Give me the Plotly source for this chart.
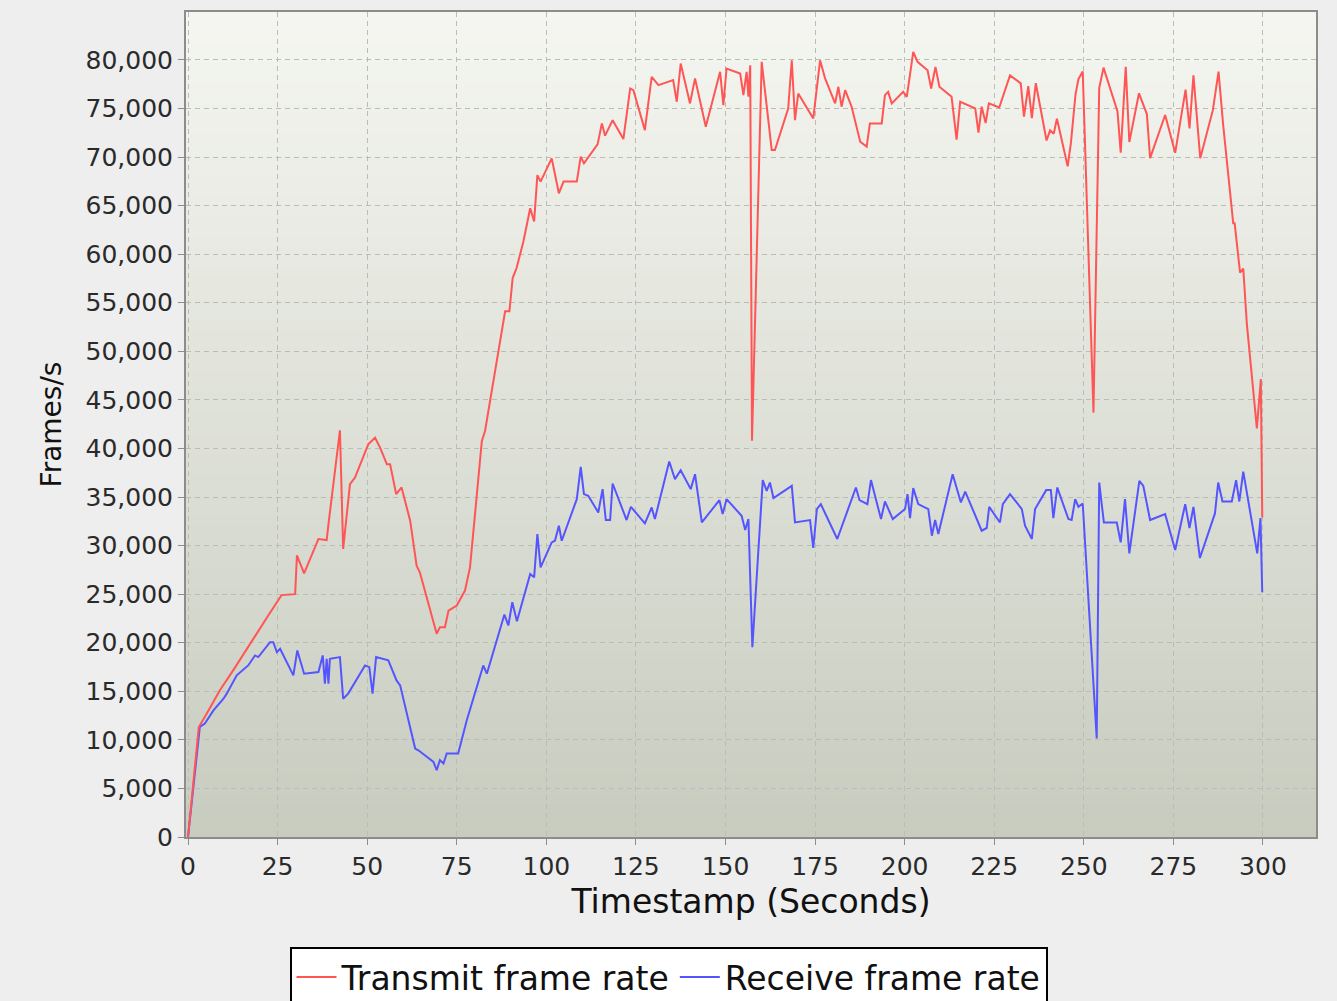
import plotly.graph_objects as go

# ---- data ----
tx_time = [0, 3, 5.2, 8.9, 12.6, 17.3, 22.4, 26.1, 29.9, 30.4, 32.4, 36.4, 38.7, 39.2, 40.7, 42.4, 43.3,
           45.2, 46.6, 50.3, 52.2, 53.6, 55.5, 56.4, 58.1, 59.6, 62.0, 63.8, 64.7, 69.4, 70.3, 71.7,
           72.7, 75.0, 77.3, 78.7, 80.1, 82.0, 82.9, 84.3, 86.6, 88.5, 89.7, 90.6, 91.7, 93.6, 95.5,
           96.6, 97.5, 98.4, 101.5, 103.5, 104.8, 108.5, 109.6, 110.5, 114.3, 115.5, 116.4, 118.5,
           121.5, 123.4, 124.3, 127.5, 129.4, 131.3, 135.4, 136.4, 137.5, 140.1, 141.5, 144.5, 148.5,
           149.4, 150.3, 154.1, 155.0, 155.9, 156.4, 156.9, 157.4, 160.1, 162.9, 163.8, 167.5, 168.5,
           169.4, 170.3, 174.5, 176.4, 177.8, 180.6, 181.5, 182.4, 183.4, 185.2, 187.6, 189.4, 190.3,
           193.6, 194.5, 195.4, 196.4, 199.6, 200.6, 202.4, 203.6, 206.4, 207.4, 208.6, 209.7, 213.1,
           214.5, 215.5, 219.7, 220.6, 221.5, 222.6, 223.5, 226.4, 229.4, 232.4, 233.3, 234.5, 235.5,
           236.6, 239.6, 240.6, 241.6, 242.5, 245.5, 246.4, 247.7, 248.5, 249.7, 252.7, 254.3, 255.5,
           259.4, 260.3, 261.7, 262.7, 265.4, 267.6, 268.5, 272.7, 275.5, 278.4, 279.5, 280.6, 282.5,
           286.0, 287.6, 288.9, 291.7, 292.1, 293.6, 294.5, 295.5, 298.3, 299.4, 299.8]
tx_rate = [0, 11300, 12700, 15100, 17150, 19900, 22800, 24900, 25000, 29000, 27150, 30680, 30570, 32200,
           37000, 41870, 29650, 36320, 37000, 40430, 41100, 40080, 38380, 38380, 35300, 35980, 32560,
           27930, 27250, 20920, 21600, 21600, 23310, 23830, 25370, 27760, 33240, 40770, 41800, 44880,
           50360, 54120, 54120, 57540, 58570, 61310, 64730, 63370, 68140, 67470, 69860, 66270, 67470,
           67470, 70040, 69350, 71300, 73460, 72200, 73790, 71850, 77060, 76880, 72770, 78260, 77400,
           77920, 75690, 79620, 75520, 78090, 73120, 78770, 75350, 79110, 78600, 76370, 78770, 76200,
           79450, 40800, 79800, 70730, 70730, 75000, 79960, 73790, 76540, 73970, 79960, 78090, 75520,
           77230, 75180, 76890, 75180, 71580, 71070, 73460, 73460, 76370, 76710, 75520, 76710, 76200,
           80820, 79800, 78940, 77060, 79280, 77230, 76200, 71800, 75690, 75000, 72500, 75180, 73500,
           75520, 75100, 78410, 77580, 74150, 77300, 74000, 77600, 71700, 72750, 72400, 73950, 69050,
           71450, 76500, 78010, 78800, 43690, 77100, 79200, 74700, 70450, 79300, 71550, 76560, 74420,
           69880, 74330, 70430, 76940, 72940, 78410, 69880, 74800, 78800, 73290, 63180, 63180, 58110,
           58520, 52830, 42070, 47140, 32900]

rx_time = [0, 3.3, 4.7, 7.1, 9.9, 10.8, 13.6, 16.8, 18.7, 19.6, 22.9, 23.8, 24.8, 25.7, 29.4, 30.5, 32.4,
           36.4, 37.6, 38.2, 38.7, 39.2, 39.6, 42.4, 43.3, 44.7, 49.4, 50.6, 51.5, 52.5, 55.9, 56.8,
           58.2, 59.2, 63.4, 64.3, 68.5, 69.4, 70.3, 71.3, 72.2, 75.4, 77.8, 82.4, 83.4, 88.3, 89.4,
           90.5, 91.8, 95.5, 96.6, 97.5, 98.4, 101.5, 102.4, 103.5, 104.3, 108.5, 109.6, 110.5, 111.7,
           114.5, 115.7, 116.6, 117.8, 118.5, 122.4, 123.6, 127.5, 129.4, 130.3, 134.3, 135.9, 137.5,
           140.3, 141.5, 143.4, 148.3, 149.2, 150.3, 154.5, 155.5, 156.4, 157.5, 160.4, 161.5, 162.4,
           163.4, 168.5, 169.4, 173.6, 174.5, 175.5, 176.6, 181.2, 186.4, 187.4, 189.6, 190.6, 193.4,
           194.5, 196.7, 200.1, 200.8, 201.5, 202.4, 203.8, 206.6, 207.6, 208.5, 209.4, 213.4, 215.7,
           216.9, 221.5, 222.9, 223.6, 226.6, 227.4, 229.4, 232.7, 233.6, 235.5, 236.4, 239.5, 240.8,
           241.5, 242.6, 245.7, 246.6, 247.6, 248.5, 249.7, 253.6, 254.3, 255.6, 259.2, 260.3, 261.5,
           262.7, 265.5, 266.6, 268.5, 272.7, 275.5, 278.3, 279.5, 280.6, 282.4, 286.6, 287.5, 288.7,
           291.3, 292.5, 293.4, 294.5, 298.4, 299.3, 299.8]
rx_rate = [0, 11330, 11680, 13040, 14240, 14760, 16640, 17660, 18690, 18520, 20060, 20060, 19030, 19380,
           16640, 19200, 16810, 16980, 18690, 15790, 18350, 15790, 18350, 18520, 14240, 14760, 17660,
           17490, 14760, 18520, 18180, 17320, 16120, 15610, 9110, 8930, 7730, 6880, 7910, 7570, 8600,
           8600, 12020, 17660, 16810, 22900, 21770, 24170, 22200, 27080, 26730, 31190, 27760, 30330,
           30500, 32040, 30500, 34780, 38100, 35300, 35120, 33410, 35810, 32630, 32630, 36390, 32630,
           33990, 32280, 33920, 32730, 38650, 36840, 37760, 35810, 37350, 32380, 34680, 33240, 34780,
           33070, 31600, 32730, 19540, 36740, 35640, 36490, 34890, 36150, 32380, 32630, 29750, 33760,
           34270, 30680, 35980, 34680, 34270, 36740, 32730, 34540, 32730, 33760, 35300, 32830, 35910,
           34270, 33760, 31020, 32630, 31190, 37350, 34440, 35560, 31530, 31810, 33990, 32380, 34270,
           35300, 33760, 32040, 30680, 33760, 35710, 35710, 32830, 35980, 32730, 32630, 34780, 33990,
           34330, 10140, 36490, 32380, 32380, 30330, 34780, 29200, 36660, 36150, 32630, 33240, 29550,
           34270, 31810, 33990, 28720, 33310, 36490, 34540, 34540, 36740, 34540, 37620, 29200, 32830,
           25190]

x_ticks = [0, 25, 50, 75, 100, 125, 150, 175, 200, 225, 250, 275, 300]
y_ticks = list(range(0, 80001, 5000))

FONT = "DejaVu Sans"

fig = go.Figure()
# Receive drawn first so transmit sits on top (legend order reversed below)
fig.add_trace(go.Scatter(x=rx_time, y=rx_rate, mode="lines", name="Receive frame rate",
                         line=dict(color="#5555ff", width=2)))
fig.add_trace(go.Scatter(x=tx_time, y=tx_rate, mode="lines", name="Transmit frame rate",
                         line=dict(color="#ff5555", width=2)))

# vertical gradient background for the plot area
shapes = []
N = 80
top = (245, 246, 241)
bot = (200, 204, 191)
for i in range(N):
    f = (i + 0.5) / N
    c = tuple(int(round(top[k] + (bot[k] - top[k]) * f)) for k in range(3))
    shapes.append(dict(type="rect", xref="paper", yref="paper", layer="below",
                       x0=0, x1=1, y0=1 - (i + 1) / N, y1=1 - i / N + 0.002,
                       fillcolor="rgb(%d,%d,%d)" % c, line=dict(width=0)))

axis_common = dict(showline=True, linecolor="#8c8c8c", linewidth=2, mirror=True,
                   ticks="outside", ticklen=6, tickcolor="#8c8c8c", tickwidth=1,
                   showgrid=True, gridcolor="#babcb5", griddash="5px,4px", gridwidth=1,
                   zeroline=False, tickfont=dict(family=FONT, size=25, color="#2a2a2a"))

fig.update_layout(
    width=1337, height=1001,
    paper_bgcolor="#eeeeee", plot_bgcolor="rgba(0,0,0,0)",
    margin=dict(l=186, r=21, t=10, b=164),
    shapes=shapes,
    xaxis=dict(range=[-0.56, 314.8], tickvals=x_ticks,
               title=dict(text="Timestamp (Seconds)", font=dict(family=FONT, size=33, color="#111111"),
                          standoff=10),
               **axis_common),
    yaxis=dict(range=[0, 84930], tickvals=y_ticks, tickformat=",d",
               title=dict(text="Frames/s", font=dict(family=FONT, size=28, color="#111111"),
                          standoff=16),
               **axis_common),
    legend=dict(orientation="h", xref="container", yref="container", x=0.5, xanchor="center",
                y=1 - 947 / 1001, yanchor="top", traceorder="reversed", itemwidth=40,
                bgcolor="#ffffff", bordercolor="#000000", borderwidth=2,
                font=dict(family=FONT, size=33, color="#111111")),
    showlegend=True,
)

fig.write_html("out.html", config={"displayModeBar": False},
               post_script="document.body.style.margin='0';")
